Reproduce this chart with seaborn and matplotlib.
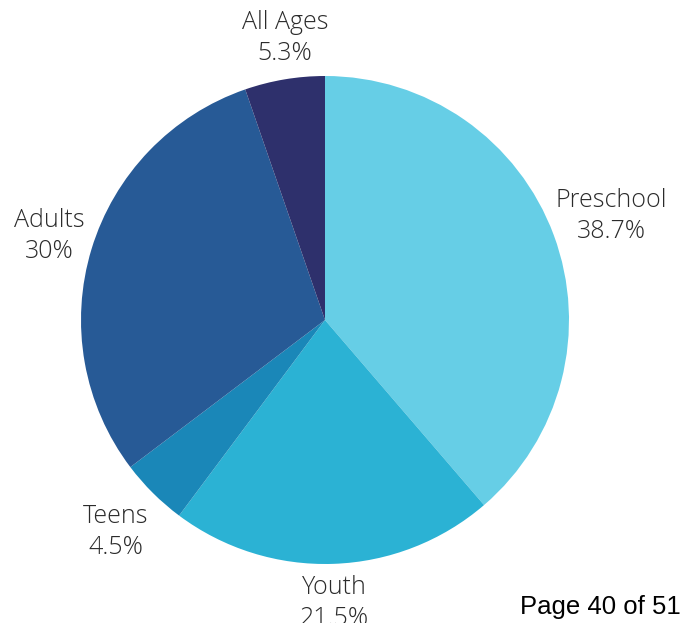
import matplotlib
matplotlib.use("Agg")
import matplotlib.pyplot as plt
import seaborn as sns

# Data
groups = ["Preschool", "Youth", "Teens", "Adults", "All Ages"]
shares = [38.7, 21.5, 4.5, 30, 5.3]
share_labels = ["38.7%", "21.5%", "4.5%", "30%", "5.3%"]
colors = ["#66CEE6", "#2BB2D4", "#1A87B8", "#275A96", "#2E306C"]

sns.set_style("white")
plt.rcParams["font.family"] = ["Open Sans", "DejaVu Sans"]

fig = plt.figure(figsize=(6.83, 6.23), dpi=100)
# pie centre ~ (325, 320) px, radius ~ 244 px
r = 244
cx, cy = 325, 320
ax = fig.add_axes([(cx - r) / 683, (623 - cy - r) / 623, 2 * r / 683, 2 * r / 623])

ax.pie(shares, colors=colors, startangle=90, counterclock=False,
       wedgeprops=dict(linewidth=0))
ax.set_xlim(-1, 1)
ax.set_ylim(-1, 1)
ax.set_aspect("equal")
ax.axis("off")

# label positions (px in the image) for each group
label_px = {
    "Preschool": (611, 216),
    "Youth": (334, 603),
    "Teens": (116, 532),
    "Adults": (49, 236),
    "All Ages": (285, 38),
}
for g, s in zip(groups, share_labels):
    px, py = label_px[g]
    ax.text((px - cx) / r, (cy - py) / r, f"{g}\n{s}", ha="center", va="center",
            fontsize=18, fontweight="light", color="#2b2b2b",
            linespacing=1.28, clip_on=False)

fig.text(681 / 683, 1 - 607 / 623, "Page 40 of 51", ha="right", va="center",
         fontsize=18.5, family="Liberation Sans", color="black")

fig.savefig("out.png", dpi=100)
